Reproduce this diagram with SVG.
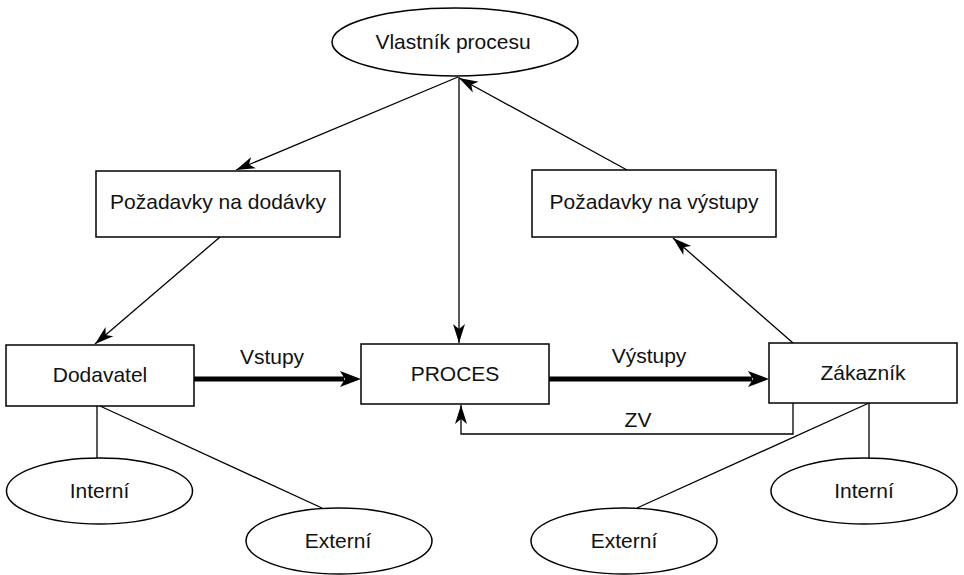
<svg xmlns="http://www.w3.org/2000/svg" width="964" height="575" viewBox="0 0 964 575">
<defs>
<style>
.n{fill:#fff;stroke:#000;stroke-width:1.5}
.t{font-family:"Liberation Sans",Arial,sans-serif;font-size:21px;fill:#111;text-anchor:middle}
.c{fill:none;stroke:#000;stroke-width:1.3}
.th{fill:none;stroke:#000;stroke-width:5}
</style>
<marker id="a" markerUnits="userSpaceOnUse" markerWidth="20" markerHeight="14" viewBox="0 0 20 14" refX="19" refY="7" orient="auto">
<path d="M0,1 L19,7 L0,13 L5,7 z" fill="#000"/>
</marker>
</defs>
<g id="connectors">
<line class="c" x1="458" y1="77" x2="236" y2="170" marker-end="url(#a)"/>
<line class="c" x1="627" y1="170" x2="459" y2="78" marker-end="url(#a)"/>
<line class="c" x1="459" y1="77" x2="459" y2="343" marker-end="url(#a)"/>
<line class="c" x1="220" y1="237" x2="95" y2="344" marker-end="url(#a)"/>
<line class="c" x1="793" y1="343" x2="673" y2="238" marker-end="url(#a)"/>
<line class="th" x1="194" y1="379" x2="344" y2="379"/>
<path d="M340,371 L361,379 L340,387 L345,379 z" fill="#000"/>
<line class="th" x1="549" y1="379" x2="752" y2="379"/>
<path d="M748,371 L769,379 L748,387 L753,379 z" fill="#000"/>
<polyline class="c" points="793,403 793,434 461,434 461,405" marker-end="url(#a)"/>
<line class="c" x1="97" y1="406" x2="97" y2="458"/>
<line class="c" x1="100" y1="406" x2="322" y2="508"/>
<line class="c" x1="869" y1="403" x2="637" y2="508"/>
<line class="c" x1="869" y1="403" x2="869" y2="458"/>
<text class="t" x="272" y="364">Vstupy</text>
<text class="t" x="649" y="363">Výstupy</text>
<text class="t" x="638" y="427">ZV</text>
</g>
<g id="vlastnik"><ellipse class="n" cx="455" cy="42" rx="123" ry="34"/><text class="t" x="453" y="49">Vlastník procesu</text></g>
<g id="pozadavky-dodavky"><rect class="n" x="96" y="171" width="244" height="66"/><text class="t" x="218" y="209">Požadavky na dodávky</text></g>
<g id="pozadavky-vystupy"><rect class="n" x="532" y="170" width="244" height="67"/><text class="t" x="654" y="209">Požadavky na výstupy</text></g>
<g id="dodavatel"><rect class="n" x="6" y="345" width="188" height="61"/><text class="t" x="100" y="382">Dodavatel</text></g>
<g id="proces"><rect class="n" x="361" y="344" width="188" height="60"/><text class="t" x="455" y="381">PROCES</text></g>
<g id="zakaznik"><rect class="n" x="769" y="343" width="188" height="60"/><text class="t" x="863" y="380">Zákazník</text></g>
<g id="interni-l"><ellipse class="n" cx="99.5" cy="491" rx="93" ry="33"/><text class="t" x="99.5" y="498">Interní</text></g>
<g id="externi-l"><ellipse class="n" cx="339" cy="541" rx="93" ry="33"/><text class="t" x="338" y="548">Externí</text></g>
<g id="externi-r"><ellipse class="n" cx="624" cy="541" rx="93" ry="33"/><text class="t" x="624" y="548">Externí</text></g>
<g id="interni-r"><ellipse class="n" cx="864" cy="491" rx="93" ry="33"/><text class="t" x="864" y="498">Interní</text></g>
</svg>
